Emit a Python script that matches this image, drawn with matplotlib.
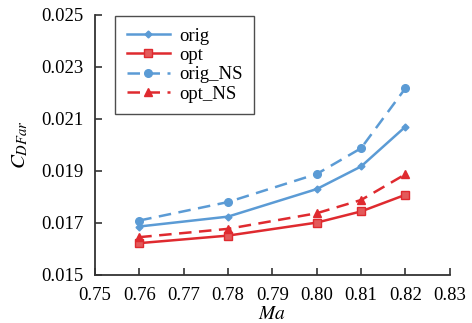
import matplotlib.pyplot as plt

plt.rcParams['font.family'] = ['Liberation Serif', 'DejaVu Serif']
plt.rcParams['mathtext.fontset'] = 'stix'

# data
ma = [0.76, 0.78, 0.80, 0.81, 0.82]
orig = [0.01686, 0.01724, 0.01830, 0.01917, 0.02070]
opt = [0.01622, 0.01651, 0.01701, 0.01744, 0.01808]
orig_ns = [0.01709, 0.01780, 0.01888, 0.01987, 0.02218]
opt_ns = [0.01645, 0.01677, 0.01737, 0.01788, 0.01887]

xticks = [0.75, 0.76, 0.77, 0.78, 0.79, 0.80, 0.81, 0.82, 0.83]
yticks = [0.015, 0.017, 0.019, 0.021, 0.023, 0.025]

blue = "#5b9bd5"
red = "#df2a2f"

fig = plt.figure(figsize=(4.72, 3.23), dpi=100)
ax = fig.add_axes([0.201, 0.149, 0.752, 0.805])

ax.plot(ma, orig, color=blue, lw=1.8, marker="D", ms=3.5, label="orig")
ax.plot(ma, opt, color=red, lw=1.8, marker="s", ms=6, markerfacecolor="#e35a5a", label="opt")
ax.plot(ma, orig_ns, color=blue, lw=1.8, ls=(0, (5, 3)), marker="o", ms=5.5, label="orig_NS")
ax.plot(ma, opt_ns, color=red, lw=1.8, ls=(0, (5, 3)), marker="^", ms=6, label="opt_NS")

ax.set_xlim(0.75, 0.83)
ax.set_ylim(0.015, 0.025)
ax.set_xticks(xticks)
ax.set_xticklabels([f"{t:.2f}" for t in xticks])
ax.set_yticks(yticks)
ax.set_yticklabels([f"{t:.3f}" for t in yticks])
ax.tick_params(direction="in", length=5, width=1.2, labelsize=13.5, color="#333333")
ax.tick_params(axis="x", pad=9)
ax.tick_params(axis="y", pad=8)
for s in ["top", "right"]:
    ax.spines[s].set_visible(False)
for s in ["left", "bottom"]:
    ax.spines[s].set_linewidth(1.3)
    ax.spines[s].set_color("#333333")

ax.set_xlabel("$Ma$", fontsize=14, labelpad=1)
ax.set_ylabel("$C_{DFar}$", fontsize=15, labelpad=8)

leg = ax.legend(loc="upper left", bbox_to_anchor=(0.058, 0.995), borderaxespad=0,
                fontsize=13.5, frameon=True, fancybox=False, edgecolor="#222222",
                handlelength=2.3, borderpad=0.6, labelspacing=0.12, handletextpad=0.5)
leg.get_frame().set_linewidth(1.0)

plt.savefig("out.png", dpi=100)
